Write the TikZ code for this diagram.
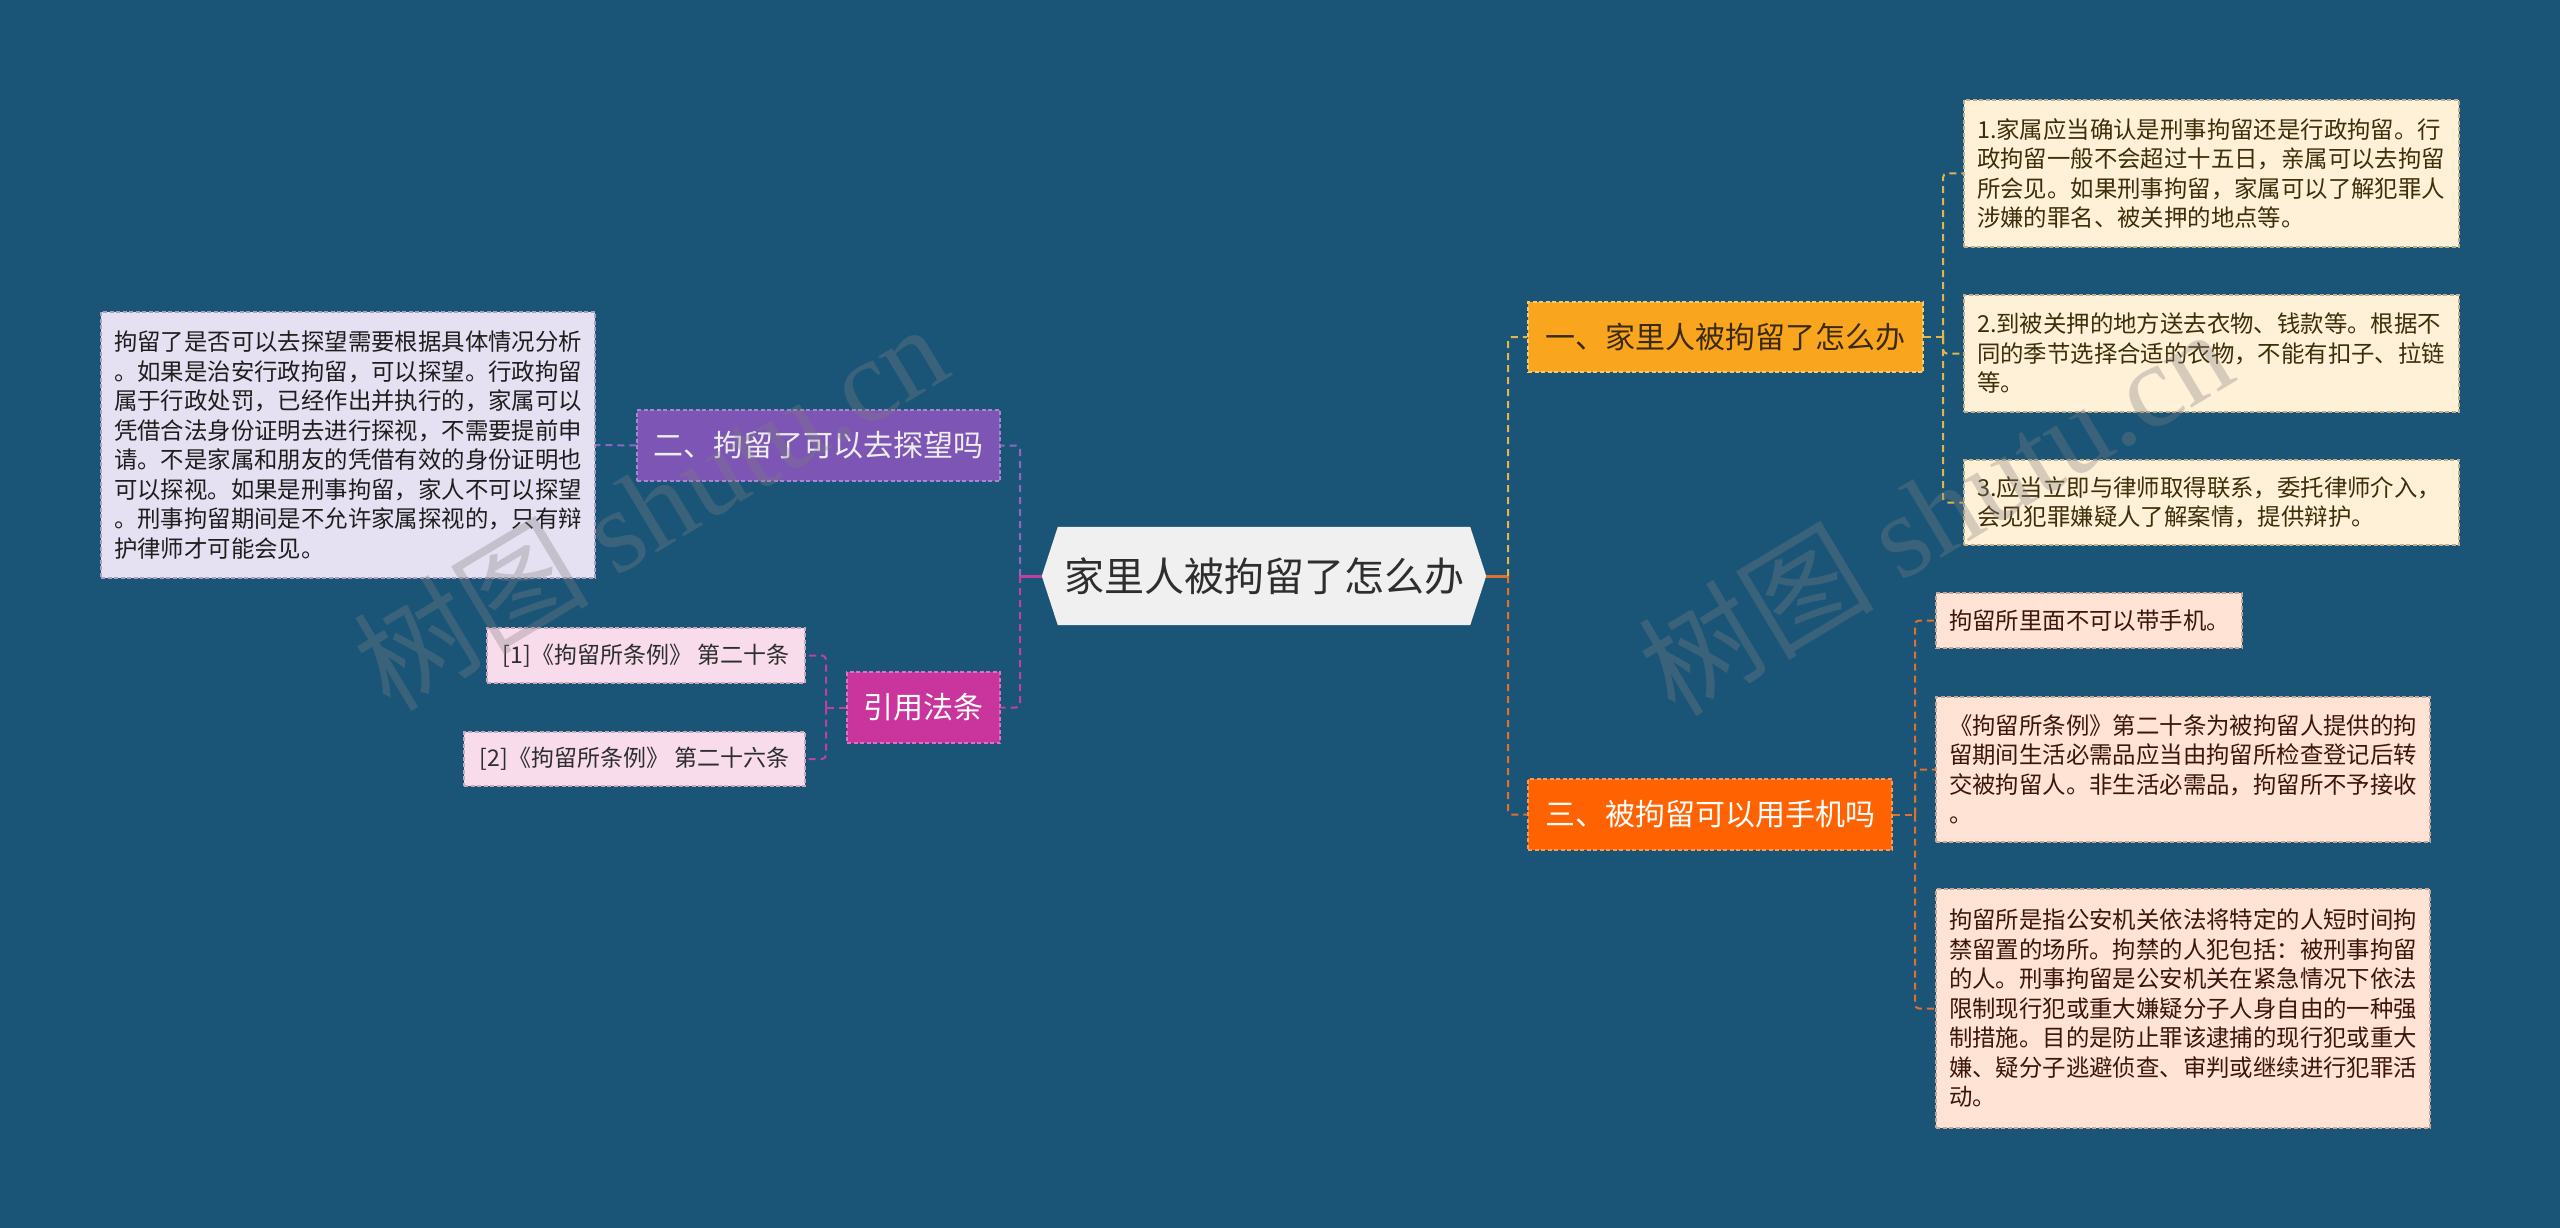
\documentclass[tikz,border=0pt]{standalone}
\usepackage{fontspec}
\setmainfont{Noto Sans CJK SC}
\newfontfamily\wmserif{Liberation Serif}
\usetikzlibrary{backgrounds}
\definecolor{bgc}{HTML}{1A5578}
\definecolor{cfill}{HTML}{F0F0F0}
\definecolor{ctext}{HTML}{2E2E2E}
\definecolor{oneF}{HTML}{F9A61E}
\definecolor{oneB}{HTML}{F5CB72}
\definecolor{oneT}{HTML}{3B2A0E}
\definecolor{oneLink}{HTML}{E2B54E}
\definecolor{oneLF}{HTML}{FFF0D8}
\definecolor{oneLB}{HTML}{BFAE8A}
\definecolor{oneLT}{HTML}{3E2E0A}
\definecolor{thrF}{HTML}{FF6200}
\definecolor{thrB}{HTML}{F59A5A}
\definecolor{thrLink}{HTML}{E0702C}
\definecolor{thrLF}{HTML}{FFE3D5}
\definecolor{thrLB}{HTML}{C9A595}
\definecolor{thrLT}{HTML}{3D160A}
\definecolor{twoF}{HTML}{7D55B4}
\definecolor{twoB}{HTML}{A588D0}
\definecolor{twoLink}{HTML}{8E66C4}
\definecolor{twoLF}{HTML}{E5E0F2}
\definecolor{twoLB}{HTML}{A9A0C0}
\definecolor{twoLT}{HTML}{1E1E1E}
\definecolor{refF}{HTML}{C9359C}
\definecolor{refB}{HTML}{E070C0}
\definecolor{refLink}{HTML}{C040A0}
\definecolor{refLF}{HTML}{F8DCEC}
\definecolor{refLB}{HTML}{C9A8BC}
\definecolor{refLT}{HTML}{2E2E2E}
\begin{document}
\begin{tikzpicture}[x=1pt,y=-1pt,
  branchbox/.style={rectangle, draw, dash pattern=on 4pt off 2.5pt, line width=1.3pt,
    inner sep=0pt, align=center, font=\fontsize{30}{36}\selectfont},
  leafbox/.style={rectangle, draw, dash pattern=on 4pt off 2.5pt, line width=1.3pt,
    inner xsep=13pt, inner ysep=0pt, align=left, font=\fontsize{23.4}{29.5}\selectfont},
  refbox/.style={rectangle, draw, dash pattern=on 4pt off 2.5pt, line width=1.3pt,
    inner sep=0pt, font=\fontsize{23}{28}\selectfont},
  link/.style={line width=2pt, dash pattern=on 7pt off 5pt, rounded corners=4pt},
  stub/.style={line width=3pt},
  wm/.style={text=gray, text opacity=0.32, font=\fontsize{118}{118}\selectfont}
]
\begin{pgfonlayer}{background}
\fill[bgc] (0,0) rectangle (2560,1228);
\end{pgfonlayer}
\useasboundingbox (0,0) rectangle (2560,1228);

% central
\node[inner sep=0pt, minimum width=444pt, minimum height=98pt, text=ctext,
  font=\fontsize{40}{48}\selectfont] (c) at (1264,576) {家里人被拘留了怎么办};
\begin{pgfonlayer}{background}
\fill[cfill] ([xshift=16pt]c.north west) -- ([xshift=-16pt]c.north east) -- (c.east)
  -- ([xshift=-16pt]c.south east) -- ([xshift=16pt]c.south west) -- (c.west) -- cycle;
\end{pgfonlayer}

% branches
\node[branchbox, fill=oneF, draw=oneB, text=oneT, minimum width=395pt, minimum height=70pt]
  (b1) at (1725.5,337) {一、家里人被拘留了怎么办};
\node[branchbox, fill=thrF, draw=thrB, text=white, minimum width=364pt, minimum height=71pt]
  (b3) at (1710,814.5) {三、被拘留可以用手机吗};
\node[branchbox, fill=twoF, draw=twoB, text=white!93!black, minimum width=363pt, minimum height=71pt]
  (b2) at (818.5,445.5) {二、拘留了可以去探望吗};
\node[branchbox, fill=refF, draw=refB, text=white, minimum width=153pt, minimum height=71pt]
  (rf) at (923.5,707.5) {引用法条};

% leaves of branch 1
\node[leafbox, fill=oneLF, draw=oneLB, text=oneLT, text width=469pt, minimum height=147pt]
  (l1) at (2211.5,173.5) {1.家属应当确认是刑事拘留还是行政拘留。行\\政拘留一般不会超过十五日，亲属可以去拘留\\所会见。如果刑事拘留，家属可以了解犯罪人\\涉嫌的罪名、被关押的地点等。};
\node[leafbox, fill=oneLF, draw=oneLB, text=oneLT, text width=469pt, minimum height=117pt]
  (l2) at (2211.5,353.5) {2.到被关押的地方送去衣物、钱款等。根据不\\同的季节选择合适的衣物，不能有扣子、拉链\\等。};
\node[leafbox, fill=oneLF, draw=oneLB, text=oneLT, text width=469pt, minimum height=85pt]
  (l3) at (2211.5,502.5) {3.应当立即与律师取得联系，委托律师介入，\\会见犯罪嫌疑人了解案情，提供辩护。};

% leaves of branch 3
\node[leafbox, fill=thrLF, draw=thrLB, text=thrLT, text width=280pt, minimum height=55pt]
  (la) at (2089,620.5) {拘留所里面不可以带手机。};
\node[leafbox, fill=thrLF, draw=thrLB, text=thrLT, text width=468pt, minimum height=145pt]
  (lb) at (2183,769.5) {《拘留所条例》第二十条为被拘留人提供的拘\\留期间生活必需品应当由拘留所检查登记后转\\交被拘留人。非生活必需品，拘留所不予接收\\。};
\node[leafbox, fill=thrLF, draw=thrLB, text=thrLT, text width=468pt, minimum height=239pt]
  (lc) at (2183,1008.5) {拘留所是指公安机关依法将特定的人短时间拘\\禁留置的场所。拘禁的人犯包括：被刑事拘留\\的人。刑事拘留是公安机关在紧急情况下依法\\限制现行犯或重大嫌疑分子人身自由的一种强\\制措施。目的是防止罪该逮捕的现行犯或重大\\嫌、疑分子逃避侦查、审判或继续进行犯罪活\\动。};

% leaf of branch 2
\node[leafbox, fill=twoLF, draw=twoLB, text=twoLT, text width=468pt, minimum height=266pt]
  (ll) at (348,445) {拘留了是否可以去探望需要根据具体情况分析\\。如果是治安行政拘留，可以探望。行政拘留\\属于行政处罚，已经作出并执行的，家属可以\\凭借合法身份证明去进行探视，不需要提前申\\请。不是家属和朋友的凭借有效的身份证明也\\可以探视。如果是刑事拘留，家人不可以探望\\。刑事拘留期间是不允许家属探视的，只有辩\\护律师才可能会见。};

% references
\node[refbox, fill=refLF, draw=refLB, text=refLT, minimum width=318pt, minimum height=55pt]
  (r1) at (646,655.5) {[1]《拘留所条例》 第二十条};
\node[refbox, fill=refLF, draw=refLB, text=refLT, minimum width=341pt, minimum height=54pt]
  (r2) at (634.5,759) {[2]《拘留所条例》 第二十六条};

% junctions
\coordinate (lj) at (1020,576);
\coordinate (rj) at (1508,576);
\coordinate (j1) at (1943,337);
\coordinate (j3) at (1915,814.5);
\coordinate (jr) at (826,707.5);

% connectors from central
\draw[stub, refLink] (c.west) -- (lj);
\draw[stub, thrLink] (c.east) -- (rj);
\draw[link, twoLink] (lj) |- (b2.east);
\draw[link, refLink] (lj) |- (rf.east);
\draw[link, oneLink] (rj) |- (b1.west);
\draw[link, thrLink] (rj) |- (b3.west);

% branch 1 leaves
\draw[link, oneLink] (b1.east) -- (j1);
\draw[link, oneLink] (j1) |- (l1.west);
\draw[link, oneLink] (j1) |- (l2.west);
\draw[link, oneLink] (j1) |- (l3.west);

% branch 3 leaves
\draw[link, thrLink] (b3.east) -- (j3);
\draw[link, thrLink] (j3) |- (la.west);
\draw[link, thrLink] (j3) |- (lb.west);
\draw[link, thrLink] (j3) |- (lc.west);

% branch 2 leaf
\draw[link, twoLink] (b2.west) -- (ll.east);

% references
\draw[link, refLink] (rf.west) -- (jr);
\draw[link, refLink] (jr) |- (r1.east);
\draw[link, refLink] (jr) |- (r2.east);

% watermarks
\node[wm, rotate=31] (wm1) at (650,505) {树图 {\wmserif shutu.cn}};
\node[wm, rotate=31] (wm2) at (1935,510) {树图 {\wmserif shutu.cn}};
\end{tikzpicture}
\end{document}
